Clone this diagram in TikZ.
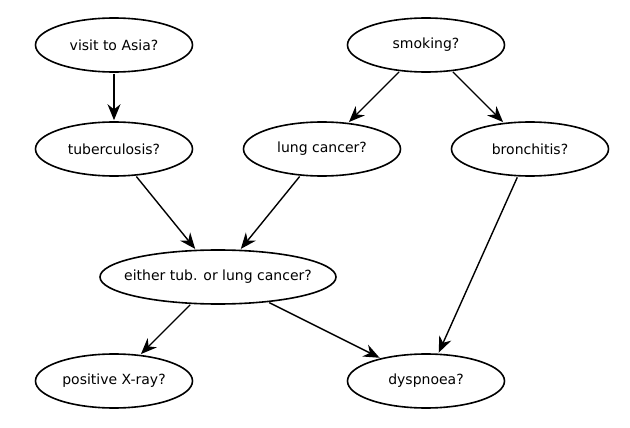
\documentclass[tikz,border=0pt]{standalone}
\usepackage{fontspec}
\setmainfont{DejaVu Sans}
\usepackage{tikz}
\usetikzlibrary{arrows.meta,shapes.geometric}

\begin{document}
\begin{tikzpicture}[x=1pt,y=-1pt,font=\fontsize{14}{16}\selectfont,
  var/.style={ellipse,draw,line width=1.6pt,minimum width=157pt,minimum height=54pt,inner ysep=0pt,inner xsep=-40pt},
  dep/.style={-{Stealth[length=16pt,width=13pt]},line width=1.4pt,shorten >=1pt,shorten <=1pt}]
\useasboundingbox (0,0) rectangle (630,428);
\node[var] (asia) at (114,45) {visit to Asia?};
\node[var] (smoke) at (426,45) {smoking?};
\node[var] (tub) at (114,149) {tuberculosis?};
\node[var] (lung) at (322,149) {lung cancer?};
\node[var] (bronc) at (530,149) {bronchitis?};
\node[var,minimum width=236pt] (either) at (218,277) {either tub. or lung cancer?};
\node[var] (xray) at (114,381) {positive X-ray?};
\node[var] (dysp) at (426,381) {dyspnoea?};
\draw[dep] (asia) -- (tub);
\draw[dep] (smoke) -- (lung);
\draw[dep] (smoke) -- (bronc);
\draw[dep] (tub) -- (either);
\draw[dep] (lung) -- (either);
\draw[dep] (bronc) -- (dysp);
\draw[dep] (either) -- (xray);
\draw[dep] (either) -- (dysp);
\end{tikzpicture}
\end{document}
